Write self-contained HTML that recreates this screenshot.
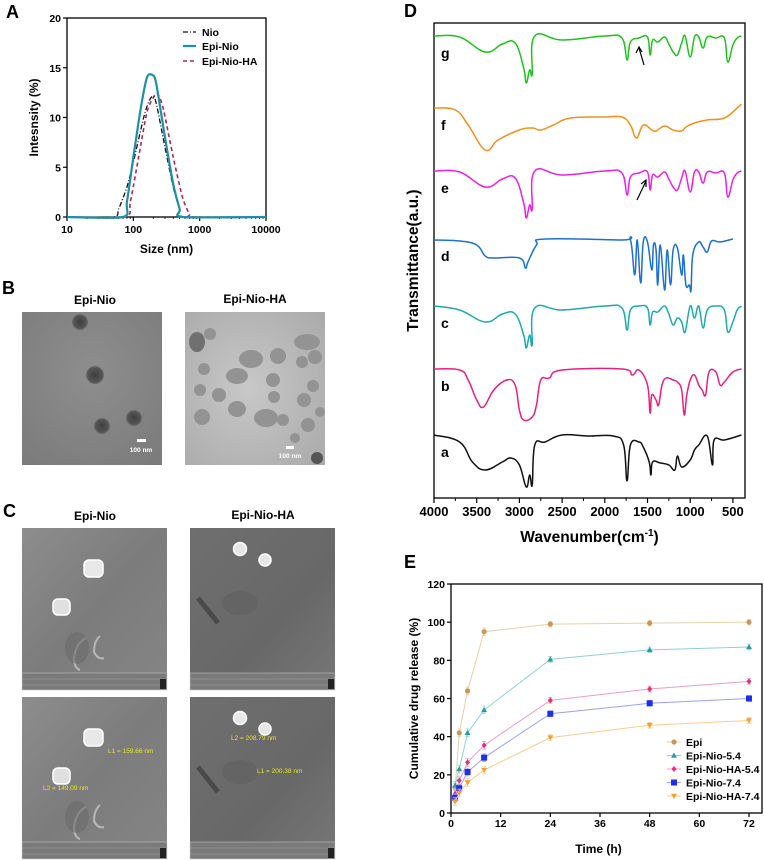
<!DOCTYPE html>
<html><head><meta charset="utf-8"><style>
html,body{margin:0;padding:0;background:#fff;}
svg{display:block;font-family:"Liberation Sans",Arial,sans-serif;}
.b{font-weight:bold;}
</style></head><body>
<svg id="fig" width="764" height="860" viewBox="0 0 764 860">
<defs>
<radialGradient id="temBg" cx="0.5" cy="0.4" r="0.8"><stop offset="0" stop-color="#8e8e8e"/><stop offset="1" stop-color="#7a7a7a"/></radialGradient>
<radialGradient id="temBg2" cx="0.45" cy="0.5" r="0.75"><stop offset="0" stop-color="#c8c8c8"/><stop offset="1" stop-color="#a9a9a9"/></radialGradient>
<radialGradient id="dot" cx="0.5" cy="0.5" r="0.5"><stop offset="0" stop-color="#3e3e3e"/><stop offset="0.8" stop-color="#555"/><stop offset="1" stop-color="#6e6e6e"/></radialGradient>
<linearGradient id="sem" x1="0" y1="0" x2="1" y2="1"><stop offset="0" stop-color="#8d8d8d"/><stop offset="0.5" stop-color="#7c7c7c"/><stop offset="1" stop-color="#858585"/></linearGradient>
<linearGradient id="sem2" x1="0" y1="0" x2="1" y2="1"><stop offset="0" stop-color="#6f6f6f"/><stop offset="0.6" stop-color="#686868"/><stop offset="1" stop-color="#777"/></linearGradient>
</defs>

<text x="6" y="18" class="b" font-size="18">A</text>
<text x="2" y="294" class="b" font-size="18">B</text>
<text x="3" y="517" class="b" font-size="18">C</text>
<text x="404" y="17" class="b" font-size="18">D</text>
<text x="404" y="568" class="b" font-size="18">E</text>

<g id="panelA"></g>

<g>
<text x="95" y="304" text-anchor="middle" class="b" font-size="12">Epi-Nio</text>
<text x="255" y="303" text-anchor="middle" class="b" font-size="12">Epi-Nio-HA</text>
<g>
<rect x="22" y="312" width="140" height="153" fill="url(#temBg)"/>
<circle cx="80" cy="322" r="8" fill="url(#dot)"/>
<circle cx="95" cy="375" r="9" fill="url(#dot)"/>
<circle cx="102" cy="426" r="8" fill="url(#dot)"/>
<circle cx="134" cy="418" r="8" fill="url(#dot)"/>
<rect x="137" y="439" width="9" height="3" fill="#fff"/>
<text x="141" y="452" text-anchor="middle" fill="#fff" class="b" font-size="6.5">100 nm</text>
</g>
<g>
<rect x="185" y="312" width="140" height="153" fill="url(#temBg2)"/>
<g fill="#939393">
<ellipse cx="197" cy="342" rx="8" ry="10" fill="#707070"/><circle cx="210" cy="334" r="6"/>
<ellipse cx="251" cy="359" rx="12" ry="9"/><circle cx="278" cy="356" r="8"/>
<ellipse cx="307" cy="342" rx="13" ry="8"/><circle cx="315" cy="357" r="7"/><circle cx="302" cy="362" r="6"/>
<circle cx="204" cy="369" r="6"/><ellipse cx="237" cy="376" rx="11" ry="8"/><circle cx="273" cy="380" r="7"/>
<circle cx="200" cy="390" r="6"/><circle cx="219" cy="395" r="7"/><circle cx="274" cy="397" r="6"/>
<circle cx="313" cy="386" r="6"/><circle cx="304" cy="400" r="7"/><ellipse cx="237" cy="409" rx="9" ry="8"/>
<circle cx="202" cy="417" r="8"/><ellipse cx="266" cy="418" rx="12" ry="9"/><circle cx="283" cy="420" r="6"/>
<circle cx="308" cy="425" r="7"/><circle cx="320" cy="412" r="5"/><circle cx="295" cy="438" r="5"/>
<circle cx="317" cy="458" r="6" fill="#555"/>
</g>
<rect x="286" y="446" width="8" height="3" fill="#fff"/>
<text x="290" y="458" text-anchor="middle" fill="#fff" class="b" font-size="6.5">100 nm</text>
</g>
</g>

<g>
<text x="95" y="520" text-anchor="middle" class="b" font-size="12">Epi-Nio</text>
<text x="263" y="519" text-anchor="middle" class="b" font-size="12">Epi-Nio-HA</text>
<g id="semImgs"></g>
</g>

<g id="panelD"></g>
<g id="panelE"></g>
</svg>

<script>
// ---------- Panel A data ----------
const aSizesNio = [10, 50, 60, 80, 100, 150, 190, 220, 300, 400, 500, 600, 10000];
const aValsNio  = [0, 0, 0.8, 3, 5.5, 10.5, 12.1, 11.5, 7, 3, 0.8, 0, 0];
const aSizesEpi = [10, 70, 80, 100, 130, 160, 190, 220, 300, 400, 500, 560, 10000];
const aValsEpi  = [0, 0, 1.5, 6, 11, 14, 14.3, 13.5, 8, 3.3, 0.8, 0, 0];
const aSizesHA  = [10, 75, 90, 120, 160, 200, 230, 280, 400, 550, 700, 800, 10000];
const aValsHA   = [0, 0, 1.5, 6, 10.5, 12, 12.4, 11, 6, 2, 0.3, 0, 0];
const aYTicks = [0, 5, 10, 15, 20];
const aXTicks = [10, 100, 1000, 10000];

// ---------- Panel D data (wavenumber, transmittance offset px below band baseline) ----------
const dWaveNio = [4000,3700,3400,3200,3050,2950,2920,2880,2850,2820,2500,2000,1800,1740,1700,1600,1500,1470,1440,1380,1300,1250,1200,1150,1100,1060,1000,950,900,850,800,700,600,560,500,450,400];
const dOffC    = [0,4,16,8,8,29,42,29,39,2,4,0,2,24,4,0,2,19,6,6,0,8,19,12,16,26,0,12,0,22,4,0,4,26,16,4,0];
const dOffG    = [0,1,16,8,7,32,47,34,38,0,4,0,2,24,6,2,1,19,4,6,1,8,16,19,7,0,21,1,1,12,1,2,2,26,9,2,0];
const dWaveF = [4000,3750,3600,3400,3250,3000,2850,2750,2600,2400,2000,1800,1700,1630,1550,1450,1400,1300,1200,1100,1050,950,800,600,450,400];
const dOffF  = [0,2,17,42,32,22,20,22,17,10,9,9,17,30,17,22,23,18,22,23,19,15,12,10,0,-4];
const dWaveD = [4000,3700,3500,3400,3300,3000,2930,2900,2800,2700,1800,1700,1650,1620,1580,1550,1500,1450,1430,1400,1380,1350,1300,1270,1230,1200,1150,1100,1080,1050,1010,990,970,900,850,800,750,650,500];
const dOffD  = [1,2,6,17,19,19,29,23,6,0,1,1,36,1,44,3,3,31,6,11,46,6,51,11,46,11,9,36,16,46,46,51,16,3,8,13,2,3,0];
const dWaveB = [4000,3700,3600,3500,3420,3300,3150,3050,3000,2950,2850,2800,2750,2650,2500,1800,1680,1600,1500,1470,1450,1400,1370,1330,1280,1200,1150,1100,1070,1040,1000,950,900,860,820,780,700,650,600,500,400];
const dOffB  = [0,1,11,31,38,21,11,16,41,51,48,36,11,9,1,0,6,1,16,44,26,31,36,16,9,11,13,21,46,26,11,6,16,21,26,3,3,16,13,3,0];
const dWaveA = [4000,3700,3550,3400,3200,3100,3000,2920,2880,2850,2820,2700,2500,2200,1900,1780,1740,1700,1600,1550,1480,1460,1440,1350,1250,1180,1150,1100,1000,950,900,800,740,720,600,400];
const dOffA  = [0,7,27,35,27,23,30,52,40,50,10,7,0,1,1,10,46,10,7,12,27,40,27,28,30,35,21,32,25,15,10,1,30,5,5,0];
const dXTicks = [4000,3500,3000,2500,2000,1500,1000,500];

// ---------- Panel E data ----------
const eTimes = [1, 2, 4, 8, 24, 48, 72];
const eEpi     = [13.5, 42, 64, 95, 99, 99.5, 100];
const eNio54   = [14.5, 23, 42, 54, 80.5, 85.5, 87];
const eHA54    = [10, 17, 26.5, 35.5, 59, 65, 69];
const eNio74   = [8, 13, 21.5, 29, 52, 57.5, 60];
const eHA74    = [6, 10.5, 16, 22.5, 39.5, 46, 48.5];
const eErr     = [2, 2, 2, 2, 1.5, 1.5, 1.5];
const eYTicks = [0, 20, 40, 60, 80, 100, 120];
const eXTicks = [0, 12, 24, 36, 48, 60, 72];
const eNames = ['Epi','Epi-Nio-5.4','Epi-Nio-HA-5.4','Epi-Nio-7.4','Epi-Nio-HA-7.4'];

const NS = 'http://www.w3.org/2000/svg';
function mk(tag, attrs, parent){ const e=document.createElementNS(NS,tag); for(const k in attrs) e.setAttribute(k,attrs[k]); parent.appendChild(e); return e; }
function txt(s, attrs, parent){ const e=mk('text',attrs,parent); e.textContent=s; return e; }
function smooth(pts,t){ t=t||0.5; let d='M'+pts[0][0]+' '+pts[0][1];
 for(let i=0;i<pts.length-1;i++){ const p0=pts[i-1]||pts[i],p1=pts[i],p2=pts[i+1],p3=pts[i+2]||p2;
  const c1x=p1[0]+(p2[0]-p0[0])*t/3, c1y=p1[1]+(p2[1]-p0[1])*t/3;
  const c2x=p2[0]-(p3[0]-p1[0])*t/3, c2y=p2[1]-(p3[1]-p1[1])*t/3;
  d+=` C${c1x} ${c1y} ${c2x} ${c2y} ${p2[0]} ${p2[1]}`; }
 return d; }

// ===== Panel A =====
(function(){
 const g=document.getElementById('panelA');
 const L=67,R=266,T=18,B=217;
 const xA=v=>L+(Math.log10(v)-1)/3*(R-L);
 const yA=v=>B-v/20*(B-T);
 const box=mk('rect',{x:L,y:T,width:R-L,height:B-T,fill:'none',stroke:'#000','stroke-width':1.3},g);
  
 aYTicks.forEach(v=>{ mk('line',{x1:L-4,x2:L,y1:yA(v),y2:yA(v),stroke:'#000','stroke-width':1.2},g);
  const t=txt(String(v),{x:L-6,y:yA(v)+4,'text-anchor':'end','font-size':10.5,class:'b'},g);
    });
 aXTicks.forEach(v=>{ mk('line',{x1:xA(v),x2:xA(v),y1:B,y2:B+4,stroke:'#000','stroke-width':1.2},g);
  const t=txt(String(v),{x:xA(v),y:B+16,'text-anchor':'middle','font-size':10.5,class:'b'},g);
    });
 for(let d=1;d<4;d++) for(let m=2;m<10;m++){ const v=m*Math.pow(10,d); mk('line',{x1:xA(v),x2:xA(v),y1:B,y2:B+2,stroke:'#000','stroke-width':0.8},g); }
 const xt=txt('Size (nm)',{x:(L+R)/2,y:253,'text-anchor':'middle','font-size':12,class:'b'},g);
  
 const yt=txt('Intesnsity (%)',{x:0,y:0,transform:`translate(38,${(T+B)/2}) rotate(-90)`,'text-anchor':'middle','font-size':12,class:'b'},g);
  
 const series=[[aSizesHA,aValsHA,'#b0245a','4,3',1.6,'Epi-Nio-HA'],[aSizesNio,aValsNio,'#111','5,2,1,2',1.3,'Nio'],[aSizesEpi,aValsEpi,'#1f8fa8','',2.2,'Epi-Nio']];
 series.forEach(s=>{ const p=mk('path',{d:smooth(s[0].map((x,i)=>[xA(x),yA(s[1][i])]),0.4),fill:'none',stroke:s[2],'stroke-width':s[4],'stroke-dasharray':s[3],'stroke-linejoin':'round'},g);
    });
 const leg=[['Nio','#111','5,2,1,2',1.3,32],['Epi-Nio','#1f8fa8','',2.2,46],['Epi-Nio-HA','#b0245a','4,3',1.6,61]];
 leg.forEach(l=>{ const lg=mk('g',{},g);  
  mk('line',{x1:183,x2:196,y1:l[4],y2:l[4],stroke:l[1],'stroke-width':l[3],'stroke-dasharray':l[2]},lg);
  txt(l[0],{x:202,y:l[4]+4,'font-size':10.5,class:'b'},lg); });
})();

// ===== SEM images =====
(function(){
 const g=document.getElementById('semImgs');
 const imgs=[[22,528,'url(#sem)',0,'sem-epi-nio-top'],[190,528,'url(#sem2)',1,'sem-epi-nio-ha-top'],[22,697,'url(#sem)',0,'sem-epi-nio-bottom'],[190,697,'url(#sem2)',1,'sem-epi-nio-ha-bottom']];
 imgs.forEach((im)=>{
  const x=im[0],y=im[1]; const sg=mk('g',{},g);
   
  mk('rect',{x:x,y:y,width:145,height:162,fill:im[2]},sg);
  if(im[3]===0){
   mk('rect',{x:x+62,y:y+32,width:19,height:17,rx:5,fill:'#e8e8e8',stroke:'#fff','stroke-width':1.5},sg);
   mk('rect',{x:x+31,y:y+71,width:17,height:16,rx:5,fill:'#e0e0e0',stroke:'#fff','stroke-width':1.5},sg);
   mk('path',{d:`M${x+64} ${y+110} q-10 5 -12 20 q0 10 6 12 M${x+78} ${y+108} q-6 5 -6 16 q4 8 10 6`,fill:'none',stroke:'#b8b8b8','stroke-width':2},sg);
   mk('ellipse',{cx:x+55,cy:y+120,rx:12,ry:16,fill:'#6a6a6a',opacity:0.6},sg);
  } else {
   mk('circle',{cx:x+50,cy:y+21,r:6.5,fill:'#e6e6e6',stroke:'#fff','stroke-width':1.5},sg);
   mk('circle',{cx:x+75,cy:y+32,r:6,fill:'#e6e6e6',stroke:'#fff','stroke-width':1.5},sg);
   mk('path',{d:`M${x+8} ${y+70} l20 25`,stroke:'#4a4a4a','stroke-width':5},sg);
   mk('ellipse',{cx:x+50,cy:y+75,rx:18,ry:12,fill:'#5e5e5e',opacity:0.5},sg);
  }
  mk('rect',{x:x,y:y+145,width:145,height:17,fill:'#7a7a7a',stroke:'#ccc','stroke-width':0.5},sg);
  mk('line',{x1:x,x2:x+145,y1:y+151,y2:y+151,stroke:'#aaa','stroke-width':0.4},sg);
  mk('line',{x1:x,x2:x+145,y1:y+157,y2:y+157,stroke:'#aaa','stroke-width':0.4},sg);
  mk('rect',{x:x+138,y:y+151,width:6,height:10,fill:'#222'},sg);
 });
 const labs=[['L1 = 159.66 nm',108,753],['L2 = 149.09 nm',43,790],['L2 = 208.79 nm',231,740],['L1 = 200.38 nm',257,773]];
 labs.forEach(l=>{ const t=txt(l[0],{x:l[1],y:l[2],'font-size':6.5,fill:'#e8e820'},g);   });
})();

// ===== Panel D =====
(function(){
 const g=document.getElementById('panelD');
 const L=434,R=745,T=23,B=498;
 const xD=w=>L+(4000-w)*0.0854;
 mk('rect',{x:L,y:T,width:R-L,height:B-T,fill:'none',stroke:'#000','stroke-width':1.3},g);
 dXTicks.forEach(v=>{ mk('line',{x1:xD(v),x2:xD(v),y1:B,y2:B+5,stroke:'#000','stroke-width':1.2},g);
  const t=txt(String(v),{x:xD(v),y:B+18,'text-anchor':'middle','font-size':13,class:'b'},g);
    });
 for(let v=3750;v>400;v-=500) mk('line',{x1:xD(v),x2:xD(v),y1:B,y2:B+3,stroke:'#000','stroke-width':1},g);
 const xt=txt('Wavenumber(cm',{x:(L+R)/2,y:542,'text-anchor':'middle','font-size':15.5,class:'b'},g);
 const sup=mk('tspan',{dy:-6,'font-size':10},xt); sup.textContent='-1';
 const cl=mk('tspan',{dy:6},xt); cl.textContent=')';
  
 const yt=txt('Transmittance(a.u.)',{transform:`translate(418,${(T+B)/2}) rotate(-90)`,'text-anchor':'middle','font-size':15.5,class:'b'},g);
  
 const S=[['g',dWaveNio,dOffG,36,'#22c01e'],['f',dWaveF,dOffF,108,'#f0901e'],['e',dWaveNio,dOffG,171,'#e822e0'],['d',dWaveD,dOffD,239,'#1e6fd0'],['c',dWaveNio,dOffC,306,'#1eaaa8'],['b',dWaveB,dOffB,369,'#ea1f7c'],['a',dWaveA,dOffA,435,'#111']];
 S.forEach(s=>{ const p=mk('path',{d:smooth(s[1].map((w,i)=>[xD(w),s[3]+s[2][i]]),0.6),fill:'none',stroke:s[4],'stroke-width':1.5,'stroke-linejoin':'round'},g);
   
  const t=txt(s[0],{x:441,y:s[3]+22,'font-size':14,class:'b'},g);
    });
 const a1=mk('path',{d:'M644 65 L639 48 M636 53 L639 47 L642 52',stroke:'#000','stroke-width':1.2,fill:'none'},g);
  
 const a2=mk('path',{d:'M637 200 L646 181 M641 184 L646 180 L646 187',stroke:'#000','stroke-width':1.2,fill:'none'},g);
  
})();

// ===== Panel E =====
(function(){
 const g=document.getElementById('panelE');
 const L=451,R=762,T=584,B=813;
 const xE=v=>L+v/72*(749-L);
 const yE=v=>B-v/120*(B-T);
 mk('rect',{x:L,y:T,width:R-L,height:B-T,fill:'none',stroke:'#000','stroke-width':1.3},g);
 eYTicks.forEach(v=>{ mk('line',{x1:L-4,x2:L,y1:yE(v),y2:yE(v),stroke:'#000','stroke-width':1.2},g);
  const t=txt(String(v),{x:L-6,y:yE(v)+4,'text-anchor':'end','font-size':10.5,class:'b'},g);
    });
 eXTicks.forEach(v=>{ mk('line',{x1:xE(v),x2:xE(v),y1:B,y2:B+4,stroke:'#000','stroke-width':1.2},g);
  const t=txt(String(v),{x:xE(v),y:B+14,'text-anchor':'middle','font-size':10.5,class:'b'},g);
    });
 const xt=txt('Time (h)',{x:(L+R)/2-8,y:853,'text-anchor':'middle','font-size':12,class:'b'},g);
  
 const yt=txt('Cumulative drug release (%)',{transform:`translate(418,${(T+B)/2}) rotate(-90)`,'text-anchor':'middle','font-size':12,class:'b'},g);
  
 const series=[[eEpi,'#c8975a','#e8cfa8','circle'],[eNio54,'#2a9aa5','#8fd0d6','tri'],[eHA54,'#e0307a','#f09cc0','diamond'],[eNio74,'#1f2ee8','#9aa2f5','square'],[eHA74,'#f5a030','#f9cc90','tridown']];
 function marker(shape,cx,cy,col,parent){
  if(shape==='circle') return mk('circle',{cx:cx,cy:cy,r:2.6,fill:col},parent);
  if(shape==='square') return mk('rect',{x:cx-3,y:cy-3,width:6,height:6,fill:col},parent);
  if(shape==='tri') return mk('path',{d:`M${cx} ${cy-3} L${cx+3} ${cy+2.2} L${cx-3} ${cy+2.2}Z`,fill:col},parent);
  if(shape==='tridown') return mk('path',{d:`M${cx} ${cy+3} L${cx+3} ${cy-2.2} L${cx-3} ${cy-2.2}Z`,fill:col},parent);
  return mk('path',{d:`M${cx} ${cy-3} L${cx+2.5} ${cy} L${cx} ${cy+3} L${cx-2.5} ${cy}Z`,fill:col},parent);
 }
 series.forEach((s,si)=>{
  const sg=mk('g',{},g);  
  mk('polyline',{points:eTimes.map((t,i)=>xE(t)+','+yE(s[0][i])).join(' '),fill:'none',stroke:s[2],'stroke-width':1},sg);
  eTimes.forEach((t,i)=>{
   const x=xE(t),y=yE(s[0][i]),e=eErr[i]/120*(B-T);
   mk('path',{d:`M${x} ${y-e} V${y+e} M${x-2} ${y-e} H${x+2} M${x-2} ${y+e} H${x+2}`,stroke:s[2],'stroke-width':0.8,fill:'none'},sg);
   const m=marker(s[3],x,y,s[1],sg);
    
  });
  const lg=mk('g',{},g);  
  const ly=742+si*13.5;
  mk('line',{x1:667,x2:681,y1:ly,y2:ly,stroke:s[2],'stroke-width':1},lg);
  marker(s[3],674,ly,s[1],lg);
  txt(eNames[si],{x:686,y:ly+4,'font-size':10.5,class:'b'},lg);
 });
})();
</script>
</body></html>
